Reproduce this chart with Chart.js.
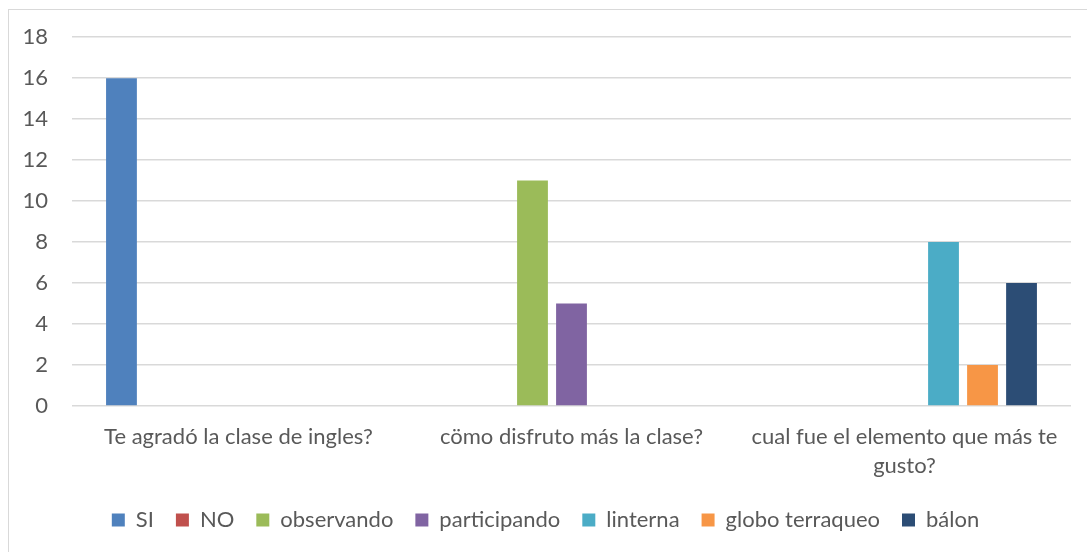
<!DOCTYPE html>
<html><head><meta charset="utf-8">
<script src="https://cdn.jsdelivr.net/npm/chart.js@4"></script>
<style>
html,body{margin:0;padding:0;background:#fff;overflow:hidden;}
#wrap{position:absolute;left:0;top:0;width:1087px;height:552px;}
#frame{position:absolute;left:8px;top:9px;width:1200px;height:700px;border:1px solid #d9d9d9;box-sizing:border-box;}
canvas{position:absolute;left:0;top:0;}
</style></head>
<body>
<div id="wrap"><div id="frame"></div><canvas id="c" width="1087" height="552"></canvas></div>
<script>
const categories = ["Te agradó la clase de ingles?", "cömo disfruto más la clase?", ["cual fue el elemento que más te", "gusto?"]];
const seriesNames = ["SI", "NO", "observando", "participando", "linterna", "globo terraqueo", "bálon"];
const SI = [16, 0, 0];
const NO = [0, 0, 0];
const observando = [0, 11, 0];
const participando = [0, 5, 0];
const linterna = [0, 0, 8];
const globo = [0, 0, 2];
const balon = [0, 0, 6];
const colors = ["#4f81bd", "#c0504d", "#9bbb59", "#8064a2", "#4bacc6", "#f79646", "#2c4d75"];
const values = [SI, NO, observando, participando, linterna, globo, balon];
const yTicks = [0, 2, 4, 6, 8, 10, 12, 14, 16, 18];

const FONT = "Lato, 'Open Sans', sans-serif";
Chart.defaults.font.family = FONT;
Chart.defaults.color = "#595959";

new Chart(document.getElementById('c'), {
  type: 'bar',
  data: {
    labels: categories,
    datasets: seriesNames.map((n, i) => ({
      label: n, data: values[i], backgroundColor: colors[i],
      categoryPercentage: 0.82, barPercentage: 0.79, borderWidth: 0
    }))
  },
  options: {
    responsive: false, animation: false,
    layout: { padding: { left: 20, right: 16, top: 30, bottom: 11 } },
    plugins: {
      tooltip: { enabled: false },
      legend: {
        position: 'bottom',
        labels: { boxWidth: 13, boxHeight: 13, padding: 22, font: { size: 22 }, color: '#595959' }
      }
    },
    scales: {
      x: {
        grid: { display: false },
        border: { display: false },
        afterFit: (s) => { s.height = 81; },
        ticks: { font: { size: 22, lineHeight: 1.32 }, color: '#595959', padding: 8, maxRotation: 0, autoSkip: false }
      },
      y: {
        min: 0, max: 18,
        afterBuildTicks: (s) => { s.ticks = yTicks.map(v => ({ value: v })); },
        afterFit: (s) => { s.width = 52; },
        grid: { color: '#d9d9d9', lineWidth: 1.5, drawTicks: false },
        border: { display: false },
        ticks: { font: { size: 22 }, color: '#595959', padding: 24 }
      }
    }
  }
});
</script>
</body></html>
